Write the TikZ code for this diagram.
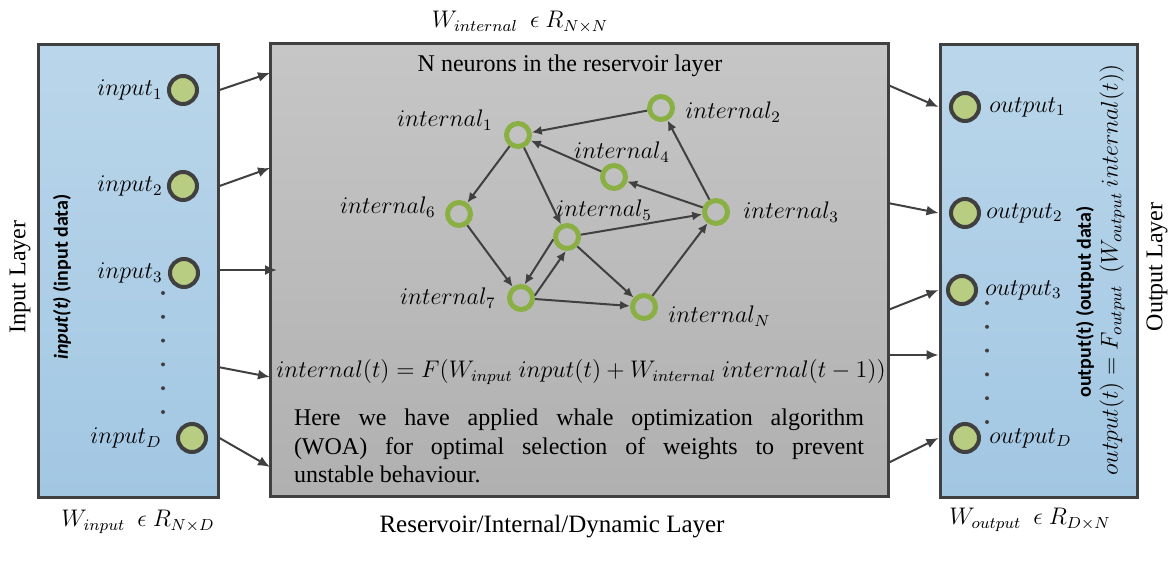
\documentclass[tikz,border=0pt]{standalone}
\usepackage{fontspec}
\setmainfont{Liberation Serif}
\newfontfamily\calibri{Carlito}
\usetikzlibrary{arrows.meta,positioning}
\definecolor{layerblue}{RGB}{186,214,234}
\definecolor{layerbluedark}{RGB}{162,199,227}
\definecolor{resgray}{RGB}{198,198,198}
\definecolor{resgraydark}{RGB}{176,176,176}
\definecolor{edgegray}{RGB}{64,64,64}
\definecolor{neurongreen}{RGB}{184,204,130}
\definecolor{ringgreen}{RGB}{138,176,67}

\begin{document}
\begin{tikzpicture}[
  x=0.5pt,y=-0.5pt,
  layer/.style={draw=edgegray,line width=1.5pt,top color=layerblue,bottom color=layerbluedark,
    minimum width=90pt,minimum height=226pt,inner sep=0pt},
  resbox/.style={draw=edgegray,line width=1.5pt,top color=resgray,bottom color=resgraydark,
    minimum width=309pt,minimum height=226pt,inner sep=0pt},
  ioneuron/.style={circle,draw=edgegray,line width=2pt,fill=neurongreen,minimum size=14pt,inner sep=0pt},
  neuron/.style={circle,draw=ringgreen,line width=2.5pt,minimum size=11.5pt,inner sep=0pt},
  lab/.style={font=\fontsize{12}{14}\selectfont,inner sep=0pt},
  nlab/.style={font=\fontsize{11.5}{14}\selectfont,inner sep=0pt},
  side/.style={font=\calibri\bfseries\fontsize{10}{12}\selectfont,inner sep=0pt,rotate=90},
  arr/.style={-{Latex[length=6pt,width=5pt]},line width=1pt,draw=edgegray},
  narr/.style={-{Latex[length=5pt,width=4.5pt]},line width=1pt,draw=edgegray}
]
\useasboundingbox (0,0) rectangle (1168,561);

% the three layers
\node[layer] (inbox) at (128,271) {};
\node[resbox] (resbox) at (579,270) {};
\node[layer,minimum width=98.5pt] (outbox) at (1038.5,271) {};

% input layer
\node[ioneuron] (in1) at (183,90) {};
\node[ioneuron] (in2) at (183,186) {};
\node[ioneuron] (in3) at (184,273) {};
\node[ioneuron] (inD) at (192,438) {};
\node[lab,left=2pt of in1] (lin1) {$input_1$};
\node[lab,left=2pt of in2] (lin2) {$input_2$};
\node[lab,left=2.5pt of in3] (lin3) {$input_3$};
\node[lab,left=7pt of inD] (linD) {$input_D$};
\foreach \k in {0,...,5}
  \fill[edgegray] (163,293+23.8*\k) circle (1pt);
\node[lab,rotate=90] (inname) at (20,277) {Input Layer};
\node[side] (indata) at (62,277) {{\itshape input(t)} (input data)};

% output layer
\node[ioneuron] (out1) at (965,107) {};
\node[ioneuron] (out2) at (965,213) {};
\node[ioneuron] (out3) at (962,290) {};
\node[ioneuron] (outD) at (965,438) {};
\node[lab,right=4pt of out1] (lout1) {$output_1$};
\node[lab,right=2.5pt of out2] (lout2) {$output_2$};
\node[lab,right=3.5pt of out3] (lout3) {$output_3$};
\node[lab,right=4pt of outD] (loutD) {$output_D$};
\foreach \k in {0,...,5}
  \fill[edgegray] (987,303+23.8*\k) circle (1pt);
\node[lab,rotate=90] (outname) at (1157,267) {Output Layer};
\node[side] (outdata) at (1085,302) {output(t) (output data)};
\node[lab,rotate=90,font=\fontsize{11.5}{14}\selectfont] (outeq) at (1112,270)
  {$output(t) = F_{output}\ \ (W_{output}\ internal(t))$};

% reservoir
\node[lab] (restitle) at (570,66) {N neurons in the reservoir layer};
\node[neuron] (i1) at (518,135) {};
\node[neuron] (i2) at (661,108) {};
\node[neuron] (i4) at (614,177) {};
\node[neuron] (i6) at (459,214) {};
\node[neuron] (i5) at (567,237) {};
\node[neuron] (i3) at (716,212) {};
\node[neuron] (i7) at (521,298) {};
\node[neuron] (iN) at (644,307) {};
\node[nlab,left=5.5pt of i1,yshift=7.5pt] (li1) {$internal_1$};
\node[nlab,right=5pt of i2,yshift=-2pt] (li2) {$internal_2$};
\node[nlab,above=0pt of i4,xshift=4pt] (li4) {$internal_4$};
\node[nlab,left=4.5pt of i6,yshift=3.5pt] (li6) {$internal_6$};
\node[nlab,above=1pt of i5,xshift=18.5pt] (li5) {$internal_5$};
\node[nlab,right=6.5pt of i3] (li3) {$internal_3$};
\node[nlab,left=5.5pt of i7] (li7) {$internal_7$};
\node[nlab,right=5pt of iN,yshift=-4.5pt] (liN) {$internal_N$};
\draw[narr] (i2) -- (i1);
\draw[narr] (i4) -- (i1);
\draw[narr] (i1) -- (i6);
\draw[narr] (i1) -- (i5);
\draw[narr] (i3) -- (i4);
\draw[narr] (i3) -- (i2);
\draw[narr] (i6) -- (i7);
\draw[narr] (i5) -- (i3);
\draw[narr] (i5.190) -- (i7.75);
\draw[narr] (i7.10) -- (i5.265);
\draw[narr] (i5) -- (iN);
\draw[narr] (i7) -- (iN);
\draw[narr] (iN) -- (i3);

\node[lab] (stateeq) at (581,372)
  {$internal(t) = F(W_{input}\ input(t) + W_{internal}\ internal(t-1))$};
\node[lab,text width=285pt,align=justify,font=\fontsize{12}{14.25}\selectfont] (woa) at (579,446)
  {Here we have applied whale optimization algorithm\linebreak
   (WOA) for optimal selection of weights to prevent\linebreak
   unstable behaviour.};

% weight labels
\node[lab] (win) at (138,522) {$W_{input}\ \ \epsilon\ R_{N\times D}$};
\node[lab] (wint) at (520,22) {$W_{internal}\ \ \epsilon\ R_{N\times N}$};
\node[lab] (wout) at (1030,520) {$W_{output}\ \ \epsilon\ R_{D\times N}$};
\node[lab,font=\fontsize{12.5}{14}\selectfont] (resname) at (552,527) {Reservoir/Internal/Dynamic Layer};

% input to reservoir
\coordinate (r1) at (270,73);
\coordinate (r2) at (270,168);
\coordinate (r3) at (277,270);
\coordinate (r4) at (270,377);
\coordinate (r5) at (270,467);
\coordinate (s4) at (218,367);
\draw[arr] (inbox.east |- in1) -- (r1);
\draw[arr] (inbox.east |- in2) -- (r2);
\draw[arr] (inbox.east |- r3) -- (r3);
\draw[arr] (s4) -- (r4);
\draw[arr] (inbox.east |- inD) -- (r5);

% reservoir to output
\coordinate (e1) at (888,85);
\coordinate (e2) at (888,203);
\coordinate (e3) at (888,310);
\coordinate (e4) at (888,355);
\coordinate (e5) at (888,463);
\draw[arr] (e1) -- (outbox.west |- out1);
\draw[arr] (e2) -- (outbox.west |- out2);
\draw[arr] (e3) -- (outbox.west |- out3);
\draw[arr] (e4) -- (outbox.west |- e4);
\draw[arr] (e5) -- (outbox.west |- outD);
\end{tikzpicture}
\end{document}
